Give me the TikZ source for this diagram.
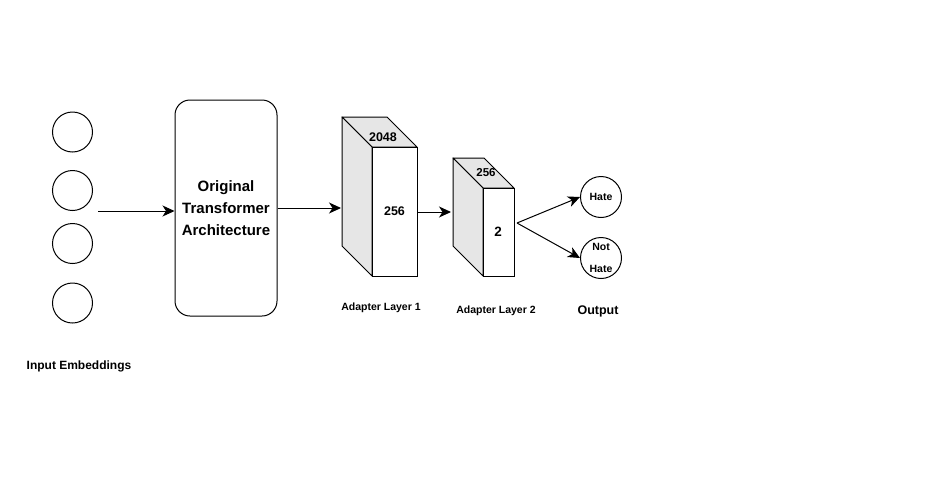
\documentclass[tikz,border=0pt]{standalone}
\usepackage{fontspec}
\setmainfont{Liberation Sans}
\usetikzlibrary{arrows.meta}
\definecolor{sidegray}{HTML}{E6E6E6}
\tikzset{
  x=1pt, y=-1pt,
  every node/.style={font=\bfseries},
  emb/.style={circle, draw, line width=1pt, minimum size=40pt, inner sep=0pt},
  outc/.style={circle, draw, line width=1pt, minimum size=41pt, inner sep=0pt, font=\bfseries\fontsize{10.5}{22}\selectfont, align=center},
  conn/.style={line width=1pt, -{Stealth[length=12pt,width=11pt,inset=3.5pt]}},
  face/.style={draw, line width=1pt, fill=sidegray, line join=round},
  front/.style={draw, line width=1pt, fill=white},
  lbl/.style={font=\bfseries\fontsize{10.5}{12}\selectfont},
}
\begin{document}
\begin{tikzpicture}
\useasboundingbox (0,0) rectangle (943,488);
% input embeddings
\node[emb] (e1) at (72.5,132) {};
\node[emb] (e2) at (72.5,190.5) {};
\node[emb] (e3) at (72.5,243.5) {};
\node[emb] (e4) at (72.5,303) {};
\node[font=\bfseries\fontsize{12}{14}\selectfont] (inlbl) at (79,366) {Input Embeddings};
\coordinate (inarrow) at (98,211);
% transformer
\node[draw, line width=1pt, rounded corners=15pt, minimum width=102pt, minimum height=216pt, inner sep=0pt,
      font=\bfseries\fontsize{15}{22}\selectfont, align=center] (tr) at (226,208) {Original\\Transformer\\Architecture};
\draw[conn] (inarrow) -- (inarrow -| tr.west);
% adapter 1
\draw[face] (342,117) -- (387,117) -- (417,147) -- (372,147) -- cycle;
\draw[face] (342,117) -- (372,147) -- (372,276) -- (342,246) -- cycle;
\node[front, minimum width=45pt, minimum height=129pt, inner sep=0pt, font=\bfseries\fontsize{12.5}{14}\selectfont] (a1) at (394.5,211.5) {256};
\node[font=\bfseries\fontsize{12.5}{14}\selectfont] (a1top) at (383,137) {2048};
\coordinate (a1in) at (341,208);
\draw[conn] (tr.east |- a1in) -- (a1in);
\node[lbl] (a1lbl) at (381,308) {Adapter Layer 1};
% adapter 2
\draw[face] (453,158) -- (484,158) -- (514,188) -- (483,188) -- cycle;
\draw[face] (453,158) -- (483,188) -- (483,276) -- (453,246) -- cycle;
\node[front, minimum width=31pt, minimum height=88pt, inner sep=0pt] (a2) at (498.5,232) {};
\node[font=\bfseries\fontsize{13.5}{15}\selectfont] (a2num) at (498,232) {2};
\node[font=\bfseries\fontsize{11.5}{13}\selectfont] (a2top) at (486,173) {256};
\coordinate (a2in) at (451,212);
\draw[conn] (a1.east |- a2in) -- (a2in);
\node[lbl] (a2lbl) at (496,311) {Adapter Layer 2};
% outputs
\node[outc] (hate) at (601,197) {Hate};
\node[outc] (nothate) at (601,258) {Not\\Hate};
\coordinate (split) at (517,223);
\draw[conn] (split) -- (hate.west);
\draw[conn] (split) -- (nothate.west);
\node[font=\bfseries\fontsize{12.5}{14}\selectfont] (outlbl) at (598,311) {Output};
\end{tikzpicture}
\end{document}
